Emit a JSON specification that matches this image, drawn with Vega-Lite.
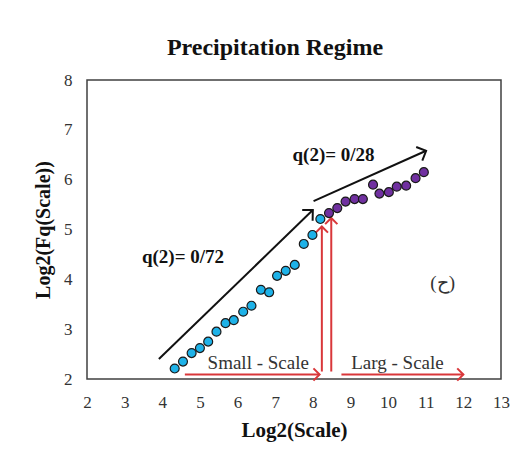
{
  "$schema": "https://vega.github.io/schema/vega-lite/v6.json",
  "width": 414,
  "height": 299,
  "autosize": {"type": "none"},
  "padding": {"left": 87, "top": 80, "right": 22, "bottom": 82},
  "background": "white",
  "title": {
    "text": "Precipitation Regime",
    "font": "Liberation Serif",
    "fontSize": 24,
    "fontWeight": "bold",
    "color": "#111",
    "anchor": "middle",
    "dx": -19,
    "offset": 11
  },
  "config": {
    "view": {"stroke": "#404040", "strokeWidth": 1.5},
    "axis": {
      "grid": false,
      "domain": false,
      "ticks": false,
      "labelOverlap": false,
      "labelFont": "Liberation Serif",
      "labelFontSize": 17,
      "labelColor": "#333",
      "titleFont": "Liberation Serif",
      "titleFontSize": 21,
      "titleFontWeight": "bold",
      "titleColor": "#111"
    },
    "axisX": {"labelFlush": false, "labelPadding": 15, "titlePadding": 9, "title": "Log2(Scale)"},
    "axisY": {"labelPadding": 15, "titlePadding": 10, "titleFontSize": 20}
  },
  "datasets": {
    "pts": [
      {"x": 4.33, "y": 2.21, "g": "small"},
      {"x": 4.55, "y": 2.35, "g": "small"},
      {"x": 4.78, "y": 2.52, "g": "small"},
      {"x": 5.0, "y": 2.62, "g": "small"},
      {"x": 5.22, "y": 2.75, "g": "small"},
      {"x": 5.44, "y": 2.95, "g": "small"},
      {"x": 5.68, "y": 3.12, "g": "small"},
      {"x": 5.9, "y": 3.18, "g": "small"},
      {"x": 6.15, "y": 3.35, "g": "small"},
      {"x": 6.37, "y": 3.47, "g": "small"},
      {"x": 6.62, "y": 3.79, "g": "small"},
      {"x": 6.84, "y": 3.74, "g": "small"},
      {"x": 7.05, "y": 4.07, "g": "small"},
      {"x": 7.28, "y": 4.17, "g": "small"},
      {"x": 7.52, "y": 4.29, "g": "small"},
      {"x": 7.76, "y": 4.71, "g": "small"},
      {"x": 7.99, "y": 4.89, "g": "small"},
      {"x": 8.2, "y": 5.21, "g": "small"},
      {"x": 8.43, "y": 5.33, "g": "large"},
      {"x": 8.65, "y": 5.43, "g": "large"},
      {"x": 8.87, "y": 5.56, "g": "large"},
      {"x": 9.11, "y": 5.61, "g": "large"},
      {"x": 9.33, "y": 5.61, "g": "large"},
      {"x": 9.6, "y": 5.9, "g": "large"},
      {"x": 9.77, "y": 5.72, "g": "large"},
      {"x": 10.02, "y": 5.75, "g": "large"},
      {"x": 10.23, "y": 5.86, "g": "large"},
      {"x": 10.48, "y": 5.88, "g": "large"},
      {"x": 10.73, "y": 6.03, "g": "large"},
      {"x": 10.95, "y": 6.15, "g": "large"}
    ],
    "arrows": [
      {"id": "b1", "kind": "black", "x": 3.91, "y": 2.4, "x2": 8.0, "y2": 5.39},
      {"id": "b2", "kind": "black", "x": 8.02, "y": 5.57, "x2": 11.01, "y2": 6.58},
      {"id": "h1", "kind": "red", "x": 4.6, "y": 2.09, "x2": 8.18, "y2": 2.09},
      {"id": "h2", "kind": "red", "x": 8.76, "y": 2.09, "x2": 12.0, "y2": 2.09},
      {"id": "v1", "kind": "red", "x": 8.24, "y": 2.15, "x2": 8.24, "y2": 5.06},
      {"id": "v2", "kind": "red", "x": 8.49, "y": 2.15, "x2": 8.49, "y2": 5.23}
    ],
    "labels": [
      {"t": "Small - Scale", "x": 6.55, "y": 2.33, "w": "normal"},
      {"t": "Larg - Scale", "x": 10.25, "y": 2.33, "w": "normal"},
      {"t": "(ح)", "x": 11.45, "y": 3.93, "w": "normal"},
      {"t": "q(2)= 0/72", "x": 4.55, "y": 4.45, "w": "bold"},
      {"t": "q(2)= 0/28", "x": 8.55, "y": 6.5, "w": "bold"}
    ]
  },
  "layer": [
    {
      "data": {"name": "arrows"},
      "mark": {"type": "rule", "strokeWidth": 2},
      "encoding": {
        "x": {"field": "x", "type": "quantitative", "scale": {"domain": [2, 13], "nice": false}, "axis": {"values": [2,3,4,5,6,7,8,9,10,11,12,13], "format": "d", "labelOverlap": false, "title": "Log2(Scale)"}},
        "y": {"field": "y", "type": "quantitative", "scale": {"domain": [2, 8], "nice": false, "zero": false}, "axis": {"values": [2,3,4,5,6,7,8], "format": "d", "labelOverlap": false, "title": "Log2(Fq(Scale))"}},
        "x2": {"field": "x2"},
        "y2": {"field": "y2"},
        "color": {"field": "kind", "type": "nominal", "scale": {"domain": ["black", "red"], "range": ["#111111", "#D9373A"]}, "legend": null}
      }
    },
    {
      "data": {"name": "arrows"},
      "transform": [{"filter": "datum.id == 'b1'"}],
      "mark": {"type": "point", "shape": "M-1,1L0,0L1,1", "filled": false, "stroke": "#111111", "strokeWidth": 2, "size": 225, "angle": 46, "opacity": 1},
      "encoding": {
        "x": {"field": "x2", "type": "quantitative", "axis": {"values": [2,3,4,5,6,7,8,9,10,11,12,13], "format": "d", "labelOverlap": false, "title": "Log2(Scale)"}},
        "y": {"field": "y2", "type": "quantitative", "axis": {"values": [2,3,4,5,6,7,8], "format": "d", "labelOverlap": false, "title": "Log2(Fq(Scale))"}}
      }
    },
    {
      "data": {"name": "arrows"},
      "transform": [{"filter": "datum.id == 'b2'"}],
      "mark": {"type": "point", "shape": "M-1,1L0,0L1,1", "filled": false, "stroke": "#111111", "strokeWidth": 2, "size": 225, "angle": 66, "opacity": 1},
      "encoding": {
        "x": {"field": "x2", "type": "quantitative", "axis": {"values": [2,3,4,5,6,7,8,9,10,11,12,13], "format": "d", "labelOverlap": false, "title": "Log2(Scale)"}},
        "y": {"field": "y2", "type": "quantitative", "axis": {"values": [2,3,4,5,6,7,8], "format": "d", "labelOverlap": false, "title": "Log2(Fq(Scale))"}}
      }
    },
    {
      "data": {"name": "arrows"},
      "transform": [{"filter": "datum.id == 'h1' || datum.id == 'h2'"}],
      "mark": {"type": "point", "shape": "M-1,1L0,0L1,1", "filled": false, "stroke": "#D9373A", "strokeWidth": 2, "size": 150, "angle": 90, "opacity": 1},
      "encoding": {
        "x": {"field": "x2", "type": "quantitative", "axis": {"values": [2,3,4,5,6,7,8,9,10,11,12,13], "format": "d", "labelOverlap": false, "title": "Log2(Scale)"}},
        "y": {"field": "y2", "type": "quantitative", "axis": {"values": [2,3,4,5,6,7,8], "format": "d", "labelOverlap": false, "title": "Log2(Fq(Scale))"}}
      }
    },
    {
      "data": {"name": "arrows"},
      "transform": [{"filter": "datum.id == 'v1' || datum.id == 'v2'"}],
      "mark": {"type": "point", "shape": "M-1,1L0,0L1,1", "filled": false, "stroke": "#D9373A", "strokeWidth": 2, "size": 150, "angle": 0, "opacity": 1},
      "encoding": {
        "x": {"field": "x2", "type": "quantitative", "axis": {"values": [2,3,4,5,6,7,8,9,10,11,12,13], "format": "d", "labelOverlap": false, "title": "Log2(Scale)"}},
        "y": {"field": "y2", "type": "quantitative", "axis": {"values": [2,3,4,5,6,7,8], "format": "d", "labelOverlap": false, "title": "Log2(Fq(Scale))"}}
      }
    },
    {
      "data": {"name": "pts"},
      "mark": {"type": "point", "filled": true, "size": 80, "stroke": "#1a1a1a", "strokeWidth": 1.2, "opacity": 1},
      "encoding": {
        "x": {"field": "x", "type": "quantitative", "axis": {"values": [2,3,4,5,6,7,8,9,10,11,12,13], "format": "d", "labelOverlap": false, "title": "Log2(Scale)"}},
        "y": {"field": "y", "type": "quantitative", "axis": {"values": [2,3,4,5,6,7,8], "format": "d", "labelOverlap": false, "title": "Log2(Fq(Scale))"}},
        "fill": {"field": "g", "type": "nominal", "scale": {"domain": ["small", "large"], "range": ["#1EB2E8", "#7030A0"]}, "legend": null}
      }
    },
    {
      "data": {"name": "labels"},
      "transform": [{"filter": "datum.w == 'normal'"}],
      "mark": {"type": "text", "font": "Liberation Serif", "fontSize": 19, "color": "#333"},
      "encoding": {
        "x": {"field": "x", "type": "quantitative", "axis": {"values": [2,3,4,5,6,7,8,9,10,11,12,13], "format": "d", "labelOverlap": false, "title": "Log2(Scale)"}},
        "y": {"field": "y", "type": "quantitative", "axis": {"values": [2,3,4,5,6,7,8], "format": "d", "labelOverlap": false, "title": "Log2(Fq(Scale))"}},
        "text": {"field": "t"}
      }
    },
    {
      "data": {"name": "labels"},
      "transform": [{"filter": "datum.w == 'bold'"}],
      "mark": {"type": "text", "font": "Liberation Serif", "fontSize": 19, "fontWeight": "bold", "color": "#111"},
      "encoding": {
        "x": {"field": "x", "type": "quantitative", "axis": {"values": [2,3,4,5,6,7,8,9,10,11,12,13], "format": "d", "labelOverlap": false, "title": "Log2(Scale)"}},
        "y": {"field": "y", "type": "quantitative", "axis": {"values": [2,3,4,5,6,7,8], "format": "d", "labelOverlap": false, "title": "Log2(Fq(Scale))"}},
        "text": {"field": "t"}
      }
    }
  ]
}
